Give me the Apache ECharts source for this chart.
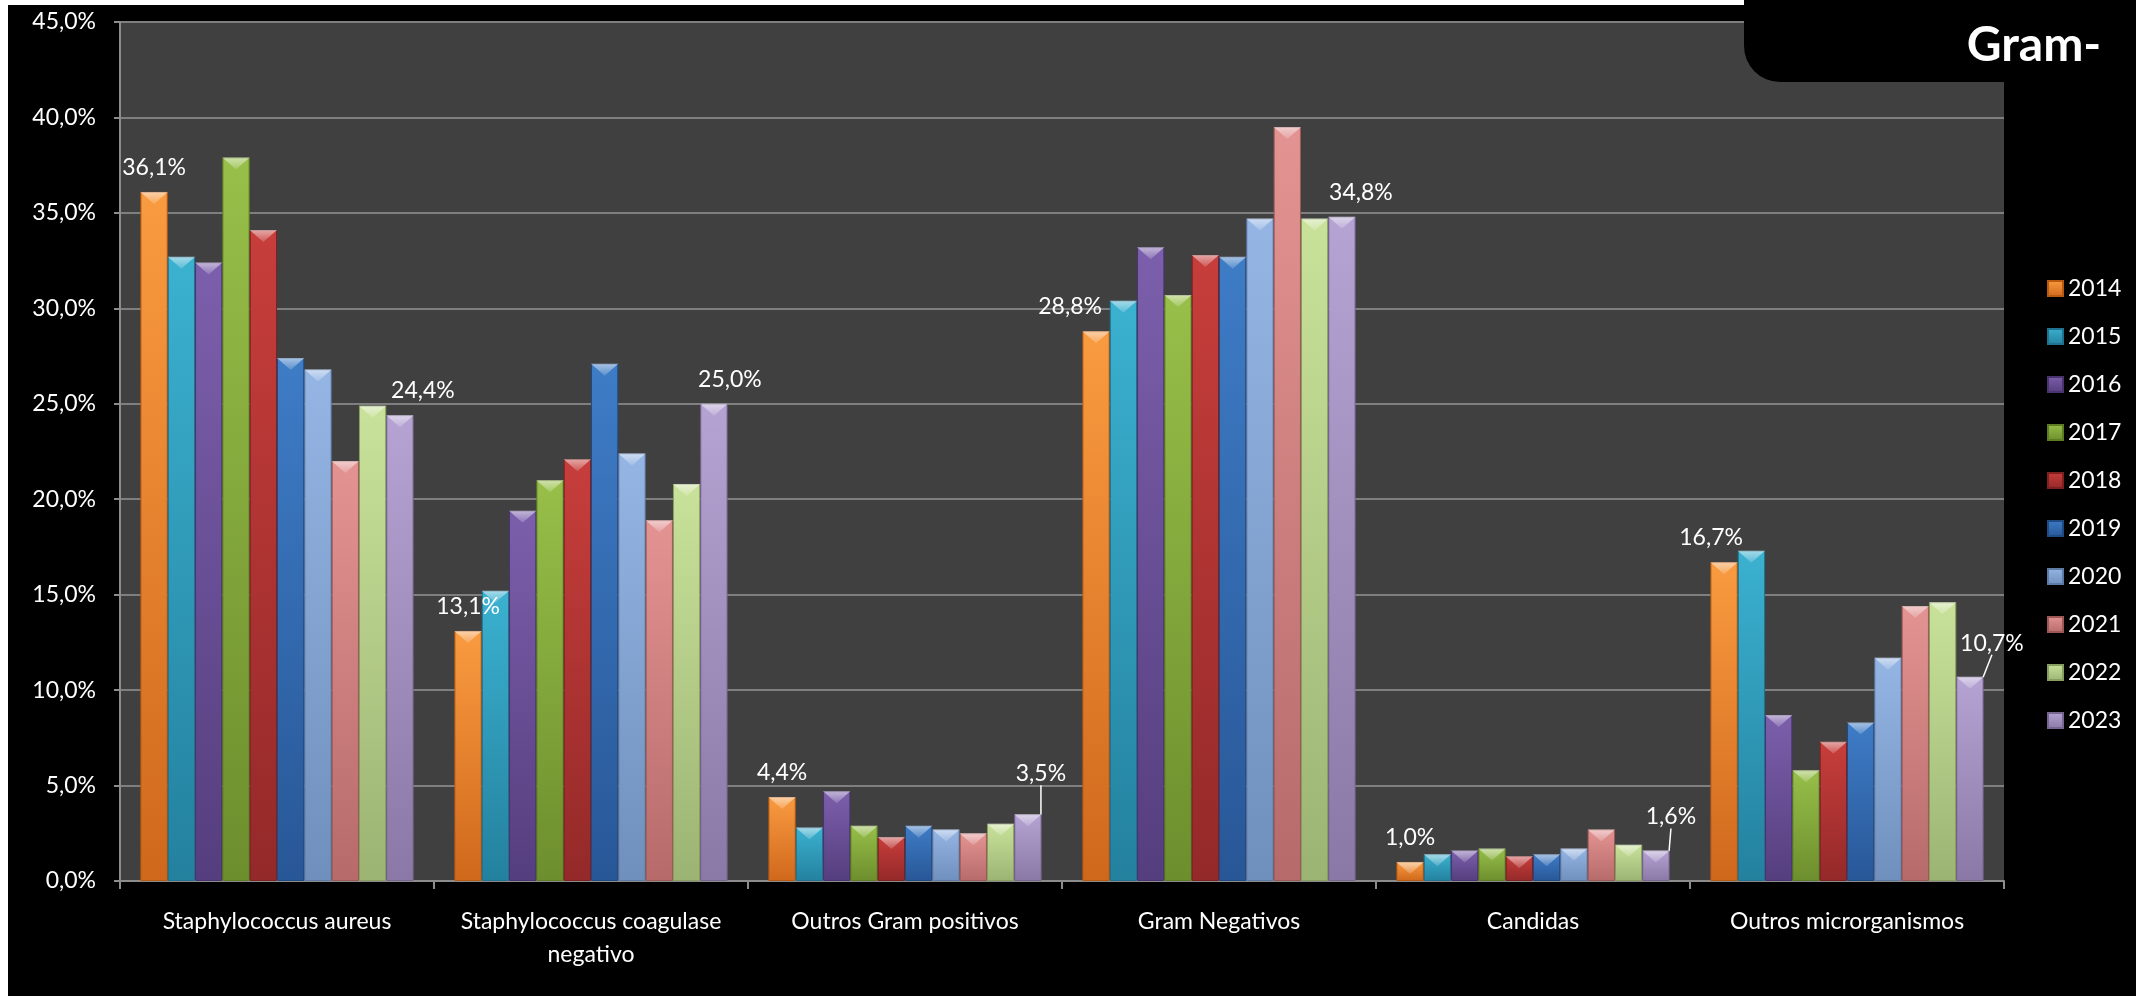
<!DOCTYPE html>
<html>
<head>
<meta charset="utf-8">
<script src="https://cdn.jsdelivr.net/npm/echarts@6/dist/echarts.min.js"></script>
<style>
html,body{margin:0;padding:0;background:#fff;}
#c{width:2136px;height:996px;}
</style>
</head>
<body>
<div id="c"></div>
<script>
// ---------- data ----------
const categories = [
  'Staphylococcus aureus',
  'Staphylococcus coagulase\nnegativo',
  'Outros Gram positivos',
  'Gram Negativos',
  'Candidas',
  'Outros microrganismos'
];
const years = ['2014','2015','2016','2017','2018','2019','2020','2021','2022','2023'];
const v2014 = [36.1, 13.1, 4.4, 28.8, 1.0, 16.7];
const v2015 = [32.7, 15.2, 2.8, 30.4, 1.4, 17.3];
const v2016 = [32.4, 19.4, 4.7, 33.2, 1.6, 8.7];
const v2017 = [37.9, 21.0, 2.9, 30.7, 1.7, 5.8];
const v2018 = [34.1, 22.1, 2.3, 32.8, 1.3, 7.3];
const v2019 = [27.4, 27.1, 2.9, 32.7, 1.4, 8.3];
const v2020 = [26.8, 22.4, 2.7, 34.7, 1.7, 11.7];
const v2021 = [22.0, 18.9, 2.5, 39.5, 2.7, 14.4];
const v2022 = [24.9, 20.8, 3.0, 34.7, 1.9, 14.6];
const v2023 = [24.4, 25.0, 3.5, 34.8, 1.6, 10.7];
const titleText = 'Gram-';

const values = [v2014, v2015, v2016, v2017, v2018, v2019, v2020, v2021, v2022, v2023];

// ---------- style ----------
const palette = [
  ['#F99B40', '#D0681C'],
  ['#3BB1D0', '#23819E'],
  ['#7C5FAC', '#553E7E'],
  ['#97BF49', '#6D8E2D'],
  ['#C73E3B', '#942929'],
  ['#3E7CC6', '#285797'],
  ['#95B5E4', '#6F8FBC'],
  ['#E39392', '#B66B6A'],
  ['#C9E29A', '#9CB473'],
  ['#B5A3D3', '#8A78A6']
];
const borders = ['#B85A12','#1F7290','#4A346E','#5E7C24','#7E2020','#204A82','#5E7BA6','#9E5957','#879E60','#776690'];
// label shifts [dx, dy] for first (2014) and last (2023) series
const firstShift = [[0,0],[0,0],[0,0],[-26,0],[0,0],[-13,0]];
const lastShift  = [[23,0],[16,0],[13,-16],[19,0],[15,-9],[22,-9]];
const lastLeader = [false,false,true,false,true,true];

const FONT = 'Lato';
const fmt = v => v.toFixed(1).replace('.', ',') + '%';

function grad(c) {
  return new echarts.graphic.LinearGradient(0, 0, 0, 1, [
    {offset: 0, color: c[0]},
    {offset: 1, color: c[1]}
  ]);
}

const barSeries = years.map((y, i) => {
  const isLast = i === years.length - 1;
  const labelled = (i === 0 || isLast);
  const data = values[i].map((v, j) => {
    if (!labelled) return v;
    return {
      value: v,
      label: {show: true},
      labelLine: {show: isLast ? lastLeader[j] : false}
    };
  });
  const s = {
    type: 'bar',
    name: y,
    data: data,
    barGap: '0%',
    barCategoryGap: '13%',
    itemStyle: {color: grad(palette[i]), borderColor: borders[i], borderWidth: 1},
    label: {
      show: false,
      position: 'top',
      distance: 13,
      color: '#fff',
      fontSize: 23,
      fontFamily: FONT,
      formatter: p => fmt(p.value)
    },
    labelLine: {show: false, lineStyle: {color: '#fff', width: 1.5}},
    z: 2
  };
  if (labelled) {
    const shifts = i === 0 ? firstShift : lastShift;
    s.labelLayout = p => {
      const sh = shifts[p.dataIndex];
      const out = {dx: sh[0], dy: sh[1]};
      if (isLast && lastLeader[p.dataIndex] && p.rect && p.labelRect) {
        const lr = p.labelRect;
        const sx = lr.x + sh[0] + lr.width / 2 - 2;
        const sy = lr.y + sh[1] + lr.height + 3;
        const ex = p.rect.x + p.rect.width / 2;
        const ey = Math.min(p.rect.y, p.rect.y + p.rect.height) - 1;
        out.labelLinePoints = [[sx, sy], [ex, ey], [ex, ey]];
      }
      return out;
    };
  }
  return s;
});

const bevelSeries = years.map((y, i) => ({
  type: 'pictorialBar',
  name: y,
  data: values[i],
  symbol: 'path://M0,0L100,0L50,40Z',
  symbolSize: ['100%', 12],
  symbolPosition: 'end',
  barGap: '0%',
  barCategoryGap: '13%',
  silent: true,
  legendHoverLink: false,
  itemStyle: {
    color: new echarts.graphic.LinearGradient(0, 0, 0, 1, [
      {offset: 0, color: 'rgba(255,255,255,0.55)'},
      {offset: 1, color: 'rgba(255,255,255,0.15)'}
    ])
  },
  z: 3
}));

const chart = echarts.init(document.getElementById('c'), null, {renderer: 'canvas'});
chart.setOption({
  animation: false,
  backgroundColor: '#000',
  textStyle: {fontFamily: FONT},
  grid: {
    left: 120, right: 132, top: 22, bottom: 115,
    show: true, backgroundColor: '#404040', borderWidth: 0
  },
  legend: {
    data: years,
    orient: 'vertical',
    left: 2042,
    top: 272,
    itemWidth: 15,
    itemHeight: 15,
    itemGap: 25,
    icon: 'rect',
    textStyle: {color: '#fff', fontSize: 23, fontFamily: FONT, lineHeight: 23},
    selectedMode: false
  },
  xAxis: {
    type: 'category',
    data: categories,
    axisLine: {show: true, lineStyle: {color: '#8c8c8c', width: 2}},
    axisTick: {show: true, length: 8, lineStyle: {color: '#8c8c8c', width: 2}},
    axisLabel: {color: '#fff', fontSize: 23, fontFamily: FONT, margin: 24, lineHeight: 33, interval: 0},
    splitLine: {show: false}
  },
  yAxis: {
    type: 'value',
    min: 0, max: 45, interval: 5,
    axisLine: {show: true, lineStyle: {color: '#8c8c8c', width: 2}},
    axisTick: {show: true, length: 6, lineStyle: {color: '#8c8c8c', width: 2}},
    axisLabel: {color: '#fff', fontSize: 23, fontFamily: FONT, margin: 24, formatter: v => fmt(v)},
    splitLine: {show: true, lineStyle: {color: '#7f7f7f', width: 2}}
  },
  graphic: [
    {type: 'rect', left: 0, top: 0, shape: {width: 8, height: 996}, style: {fill: '#fff'}, z: 100},
    {type: 'rect', left: 0, top: 0, shape: {width: 1744, height: 5}, style: {fill: '#fff'}, z: 100},
    {type: 'rect', left: 1744, top: 0, shape: {width: 392, height: 82, r: [0, 0, 0, 36]}, style: {fill: '#000'}, z: 100},
    {type: 'text', x: 2034, y: 46, style: {text: titleText, fill: '#fff', font: 'bold 48px Lato', textAlign: 'center', textVerticalAlign: 'middle'}, z: 101}
  ],
  series: barSeries.concat(bevelSeries)
});
</script>
</body>
</html>
